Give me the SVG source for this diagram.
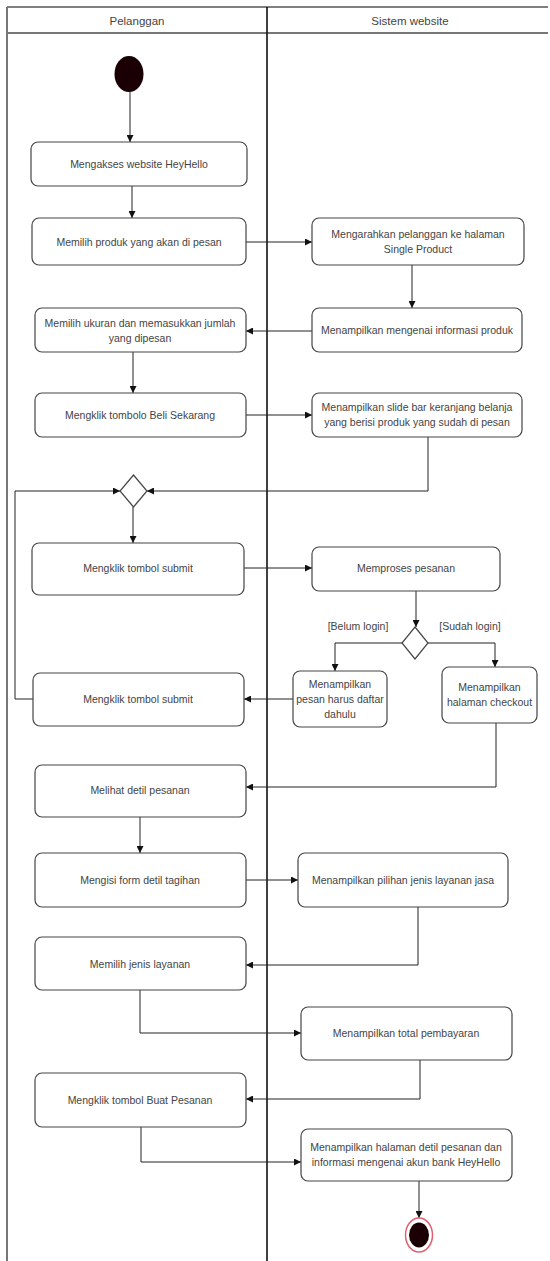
<svg xmlns="http://www.w3.org/2000/svg" width="550" height="1261" viewBox="0 0 550 1261">
<defs>
<marker id="ah" markerWidth="7" markerHeight="7" refX="7" refY="3.5" orient="auto" markerUnits="userSpaceOnUse">
<path d="M0,0 L7,3.5 L0,7 z" fill="#111"/>
</marker>
<style>
.box{fill:#fff;stroke:#444;stroke-width:1.2}
.t{font-family:"Liberation Sans",Arial,sans-serif;font-size:10.5px;fill:#444;text-anchor:middle}
.h{font-family:"Liberation Sans",Arial,sans-serif;font-size:11.5px;fill:#444;text-anchor:middle}
.c{fill:none;stroke:#222;stroke-width:1}
.a{fill:none;stroke:#222;stroke-width:1;marker-end:url(#ah)}
.dia{fill:#fff;stroke:#444;stroke-width:1.2}
</style>
</defs>
<rect width="550" height="1261" fill="#fff"/>
<g id="lanes">
<line x1="7" y1="7" x2="548" y2="7" stroke="#555" stroke-width="1.5"/>
<line x1="7" y1="33" x2="548" y2="33" stroke="#777" stroke-width="2"/>
<line x1="7" y1="7" x2="7" y2="1261" stroke="#777" stroke-width="2"/>
<line x1="267" y1="7" x2="267" y2="1261" stroke="#111" stroke-width="1.6"/>
<text class="h" x="137" y="25">Pelanggan</text>
<text class="h" x="410" y="25">Sistem website</text>
</g>
<g id="connectors">
<line class="a" x1="130" y1="92" x2="130" y2="142"/>
<line class="a" x1="132" y1="186" x2="132" y2="218"/>
<line class="a" x1="246" y1="242" x2="312" y2="242"/>
<line class="a" x1="412" y1="265" x2="412" y2="308"/>
<line class="a" x1="312" y1="331" x2="246" y2="331"/>
<line class="a" x1="133" y1="352" x2="133" y2="393"/>
<line class="a" x1="246" y1="415" x2="312" y2="415"/>
<polyline class="a" points="428,437 428,491 147,491"/>
<polyline class="a" points="33,699 15,699 15,491 120,491"/>
<line class="a" x1="133" y1="507" x2="133" y2="543"/>
<line class="a" x1="244" y1="568" x2="312" y2="568"/>
<line class="a" x1="416" y1="591" x2="416" y2="627"/>
<polyline class="a" points="402,643 335,643 335,671"/>
<polyline class="a" points="428,643 495,643 495,667"/>
<line class="a" x1="293" y1="699" x2="244" y2="699"/>
<polyline class="a" points="496,723 496,787 246,787"/>
<line class="a" x1="140" y1="817" x2="140" y2="853"/>
<line class="a" x1="246" y1="880" x2="298" y2="880"/>
<polyline class="a" points="418,907 418,965 246,965"/>
<polyline class="a" points="140,990 140,1033 301,1033"/>
<polyline class="a" points="420,1060 420,1099 246,1099"/>
<polyline class="a" points="141,1127 141,1162 301,1162"/>
<line class="a" x1="419" y1="1181" x2="419" y2="1218"/>
<text class="t" x="358" y="630">[Belum login]</text>
<text class="t" x="470" y="630">[Sudah login]</text>
</g>
<g id="start"><ellipse cx="129" cy="74" rx="14.5" ry="18" fill="#1a0005"/></g>
<g id="n1"><rect class="box" x="31" y="142" width="216" height="44" rx="7"/><text class="t" x="139" y="168">Mengakses website HeyHello</text></g>
<g id="n2"><rect class="box" x="32" y="218" width="214" height="47" rx="7"/><text class="t" x="139" y="245.5">Memilih produk yang akan di pesan</text></g>
<g id="r1"><rect class="box" x="312" y="218" width="212" height="47" rx="7"/><text class="t" x="418" y="238">Mengarahkan pelanggan ke halaman</text><text class="t" x="418" y="253">Single Product</text></g>
<g id="r2"><rect class="box" x="312" y="308" width="210" height="44" rx="7"/><text class="t" x="417" y="334">Menampilkan mengenai informasi produk</text></g>
<g id="l3"><rect class="box" x="35" y="308" width="211" height="44" rx="7"/><text class="t" x="140" y="327">Memilih ukuran dan memasukkan jumlah</text><text class="t" x="140" y="342">yang dipesan</text></g>
<g id="l4"><rect class="box" x="35" y="393" width="211" height="44" rx="7"/><text class="t" x="140" y="419">Mengklik tombolo Beli Sekarang</text></g>
<g id="r3"><rect class="box" x="312" y="393" width="210" height="44" rx="7"/><text class="t" x="417" y="411">Menampilkan slide bar keranjang belanja</text><text class="t" x="417" y="426">yang berisi produk yang sudah di pesan</text></g>
<g id="d1"><polygon class="dia" points="133.5,475 147,491 133.5,507 120,491"/></g>
<g id="l5"><rect class="box" x="32" y="543" width="212" height="52" rx="7"/><text class="t" x="138" y="572">Mengklik tombol submit</text></g>
<g id="r4"><rect class="box" x="312" y="547" width="188" height="44" rx="7"/><text class="t" x="406" y="572">Memproses pesanan</text></g>
<g id="d2"><polygon class="dia" points="415,627 428,643 415,659 402,643"/></g>
<g id="r5"><rect class="box" x="293" y="671" width="94" height="56" rx="7"/><text class="t" x="340" y="688">Menampilkan</text><text class="t" x="340" y="703">pesan harus daftar</text><text class="t" x="340" y="718">dahulu</text></g>
<g id="r6"><rect class="box" x="442" y="667" width="95" height="56" rx="7"/><text class="t" x="489.5" y="691">Menampilkan</text><text class="t" x="489.5" y="706">halaman checkout</text></g>
<g id="l6"><rect class="box" x="33" y="673" width="211" height="53" rx="7"/><text class="t" x="138" y="703">Mengklik tombol submit</text></g>
<g id="l7"><rect class="box" x="35" y="765" width="211" height="52" rx="7"/><text class="t" x="140" y="794">Melihat detil pesanan</text></g>
<g id="l8"><rect class="box" x="35" y="853" width="211" height="54" rx="7"/><text class="t" x="140" y="884">Mengisi form detil tagihan</text></g>
<g id="r7"><rect class="box" x="298" y="853" width="210" height="54" rx="7"/><text class="t" x="403" y="884">Menampilkan pilihan jenis layanan jasa</text></g>
<g id="l9"><rect class="box" x="35" y="937" width="211" height="53" rx="7"/><text class="t" x="140" y="968">Memilih jenis layanan</text></g>
<g id="r8"><rect class="box" x="301" y="1007" width="211" height="53" rx="7"/><text class="t" x="406" y="1037">Menampilkan total pembayaran</text></g>
<g id="l10"><rect class="box" x="35" y="1073" width="211" height="54" rx="7"/><text class="t" x="140" y="1104">Mengklik tombol Buat Pesanan</text></g>
<g id="r9"><rect class="box" x="301" y="1129" width="211" height="52" rx="7"/><text class="t" x="406" y="1151">Menampilkan halaman detil pesanan dan</text><text class="t" x="406" y="1166">informasi mengenai akun bank HeyHello</text></g>
<g id="end"><ellipse cx="419" cy="1235" rx="13.5" ry="17" fill="#fff" stroke="#e06070" stroke-width="1.5"/><ellipse cx="419" cy="1235" rx="10" ry="12.5" fill="#1a0005"/></g>
</svg>
